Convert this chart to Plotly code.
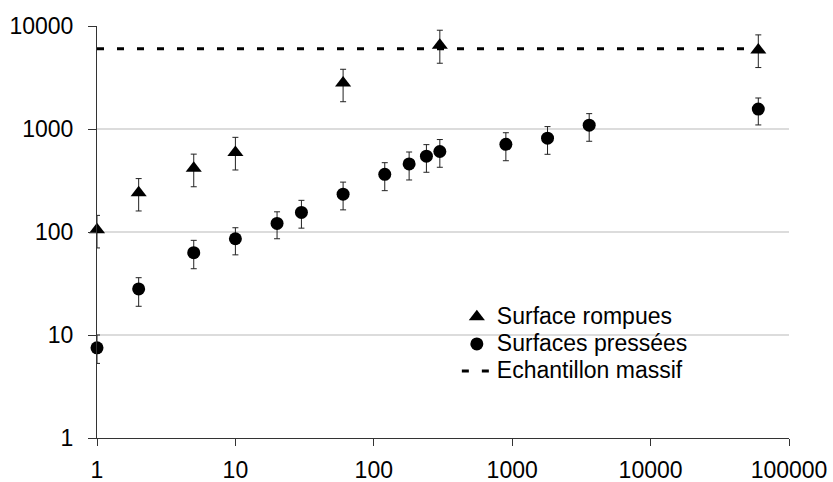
import plotly.graph_objects as go

# Surface rompues (triangles)
x_rompues = [1, 2, 5, 10, 60, 300, 60000]
y_rompues = [105, 240, 415, 590, 2800, 6500, 5850]
err_up_rompues = [40, 90, 155, 240, 1000, 2600, 2350]
err_dn_rompues = [35, 80, 140, 190, 960, 2150, 1900]

# Surfaces pressées (circles)
x_pressees = [1, 2, 5, 10, 20, 30, 60, 120, 180, 240, 300, 900, 1800, 3600, 60000]
y_pressees = [7.5, 28, 63, 86, 121, 155, 233, 363, 458, 545, 605, 710, 815, 1090, 1560]
err_up_pressees = [2.5, 8, 20, 24, 36, 48, 72, 108, 140, 160, 185, 210, 240, 320, 440]
err_dn_pressees = [2.2, 9, 19, 26, 35, 46, 69, 111, 138, 165, 180, 218, 247, 330, 465]

# Echantillon massif (reference level)
x_massif = [1, 60000]
y_massif = [6000, 6000]

x_tickvals = [1, 10, 100, 1000, 10000, 100000]
x_ticktext = ["1", "10", "100", "1000", "10000", "100000"]
y_tickvals = [1, 10, 100, 1000, 10000]
y_ticktext = ["1", "10", "100", "1000", "10000"]

series_names = ["Surface rompues", "Surfaces pressées", "Echantillon massif"]

FONT = "Liberation Sans, Arial, sans-serif"


def legend_label(text):
    return "<span style='font-size:23px'>" + text + "</span>"


fig = go.Figure()

fig.add_trace(go.Scatter(
    x=x_rompues, y=y_rompues, mode="markers", name=legend_label(series_names[0]),
    marker=dict(symbol="triangle-up", size=14, color="black"),
    error_y=dict(type="data", symmetric=False, array=err_up_rompues,
                 arrayminus=err_dn_rompues, color="#222222", thickness=1, width=3),
    cliponaxis=False,
))

fig.add_trace(go.Scatter(
    x=x_pressees, y=y_pressees, mode="markers", name=legend_label(series_names[1]),
    marker=dict(symbol="circle", size=13, color="black"),
    error_y=dict(type="data", symmetric=False, array=err_up_pressees,
                 arrayminus=err_dn_pressees, color="#222222", thickness=1, width=3),
    cliponaxis=False,
))

fig.add_trace(go.Scatter(
    x=x_massif, y=y_massif, mode="lines", name=legend_label(series_names[2]),
    line=dict(color="black", width=3, dash="7px,13px"),
))

fig.update_layout(
    width=833, height=482,
    margin=dict(l=97, r=44, t=26, b=44, autoexpand=False),
    paper_bgcolor="white", plot_bgcolor="white",
    font=dict(family=FONT, size=23, color="black"),
    showlegend=True,
    legend=dict(
        x=0.52, y=0.339, xanchor="left", yanchor="top",
        bgcolor="rgba(0,0,0,0)", borderwidth=0,
        font=dict(family=FONT, size=18.5, color="black"),
        itemwidth=30, tracegroupgap=0,
    ),
)

fig.update_xaxes(
    type="log", range=[0, 5], automargin=False,
    tickvals=x_tickvals, ticktext=x_ticktext,
    showgrid=False, zeroline=False,
    showline=True, linecolor="#333333", linewidth=1,
    ticks="outside", ticklen=7, tickcolor="#333333", tickwidth=1,
    ticklabelstandoff=4,
    tickfont=dict(family=FONT, size=23, color="black"),
)

fig.update_yaxes(
    type="log", range=[0, 4], automargin=False,
    tickvals=y_tickvals, ticktext=y_ticktext,
    showgrid=True, gridcolor="#dcdcdc", gridwidth=2,
    zeroline=False,
    showline=True, linecolor="#333333", linewidth=1,
    ticks="outside", ticklen=8, tickcolor="#333333", tickwidth=1,
    ticklabelstandoff=10,
    tickfont=dict(family=FONT, size=23, color="black"),
)

fig.write_html(
    "out.html",
    config={"displayModeBar": False},
    post_script="document.body.style.margin='0px';document.body.style.overflow='hidden';",
)
